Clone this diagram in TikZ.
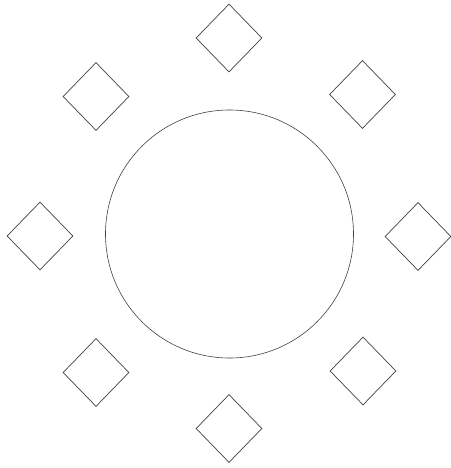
\documentclass[tikz,border=0pt]{standalone}
\usetikzlibrary{shapes.geometric}

\tikzset{
  seat/.style={draw=black!75, line width=0.7pt, diamond, inner sep=0pt,
    minimum width=66pt, minimum height=68pt},
  roundtable/.style={draw=black!75, line width=0.6pt, circle, inner sep=0pt,
    minimum size=248pt}
}

\begin{document}
\begin{tikzpicture}[x=1pt, y=-1pt]
  \useasboundingbox (0,0) rectangle (450,468);
  \node[roundtable] (table) at (229.5,234) {};
  \foreach \name/\x/\y in {n/229/38, nw/96/96.5, ne/362.5/94.5, w/40/236,
      e/418/236.5, sw/96/372.5, se/363/371, s/229/428.5}
    \node[seat] (\name) at (\x,\y) {};
\end{tikzpicture}
\end{document}
